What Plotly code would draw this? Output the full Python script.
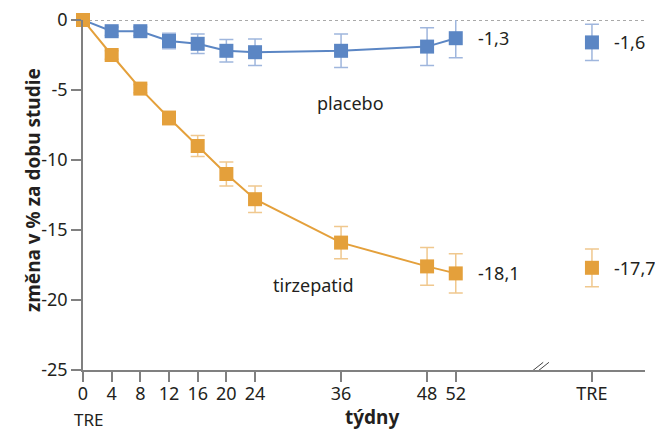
import plotly.graph_objects as go

# ---- data ----
weeks = [0, 4, 8, 12, 16, 20, 24, 36, 48, 52]
tick_labels = ["0", "4", "8", "12", "16", "20", "24", "36", "48", "52", "TRE"]

placebo = [0, -0.8, -0.8, -1.5, -1.7, -2.2, -2.3, -2.2, -1.9, -1.3]
placebo_err = [0, 0.3, 0.3, 0.55, 0.7, 0.8, 0.95, 1.2, 1.35, 1.4]
placebo_tre = [-1.6]
placebo_tre_err = [1.3]

tirz = [0, -2.5, -4.9, -7.0, -9.0, -11.0, -12.8, -15.9, -17.6, -18.1]
tirz_err = [0, 0.3, 0.3, 0.5, 0.75, 0.85, 0.95, 1.15, 1.35, 1.4]
tirz_tre = [-17.7]
tirz_tre_err = [1.35]

end_labels = ["-1,3", "-18,1"]
tre_labels = ["-1,6", "-17,7"]
series_names = ["placebo", "tirzepatid"]

# ---- layout constants ----
TRE_POS = 71
BLUE = "#5b86c4"
BLUE_ERR = "#9fb6dd"
ORANGE = "#e4a03b"
ORANGE_ERR = "#f0c88e"
TXT = "#231f20"
AX = "#808080"
FONT = "Noto Sans"
FS = 18

fig = go.Figure()

def add_series(x, y, err, color, ecolor, line=True):
    fig.add_trace(go.Scatter(
        x=x, y=y, mode="lines+markers" if line else "markers",
        line=dict(color=color, width=2),
        marker=dict(symbol="square", size=14, color=color),
        error_y=dict(type="data", array=err, visible=True, color=ecolor,
                     thickness=1.5, width=7),
        cliponaxis=False, showlegend=False, hoverinfo="skip"))

add_series(weeks, placebo, placebo_err, BLUE, BLUE_ERR)
add_series(weeks, tirz, tirz_err, ORANGE, ORANGE_ERR)
add_series([TRE_POS], placebo_tre, placebo_tre_err, BLUE, BLUE_ERR, line=False)
add_series([TRE_POS], tirz_tre, tirz_tre_err, ORANGE, ORANGE_ERR, line=False)

# dashed zero line
fig.add_shape(type="line", xref="x", yref="y", x0=0, x1=80, y0=0, y1=0,
              line=dict(color="#555555", width=1, dash="3px,3px"), layer="below")

# axis break marks
for dx in (0, 0.8):
    fig.add_shape(type="line", xref="x", yref="y",
                  x0=61.5 + dx, x1=64.2 + dx, y0=-25.55, y1=-24.45,
                  line=dict(color="#444444", width=1))

ann = []
# end labels
for y, t in zip([placebo[-1], tirz[-1]], end_labels):
    ann.append(dict(x=weeks[-1], y=y, text=t, xanchor="left", yanchor="middle",
                    xshift=20, showarrow=False, font=dict(size=FS, color=TXT)))
for y, t in zip([placebo_tre[0], tirz_tre[0]], tre_labels):
    ann.append(dict(x=TRE_POS, y=y, text=t, xanchor="left", yanchor="middle",
                    xshift=20, showarrow=False, font=dict(size=FS, color=TXT)))
# series names
ann.append(dict(x=37.3, y=-5.9, text=series_names[0], showarrow=False,
                font=dict(size=FS, color=TXT)))
ann.append(dict(x=32.2, y=-18.9, text=series_names[1], showarrow=False,
                font=dict(size=FS, color=TXT)))
# TRE under 0, x title
ann.append(dict(x=0, y=0, xref="x", yref="paper", text="TRE", showarrow=False,
                yanchor="middle", yshift=-49, xshift=5, font=dict(size=17, color=TXT)))
ann.append(dict(x=40.3, y=0, xref="x", yref="paper", text="<b>týdny</b>",
                yanchor="middle", showarrow=False, yshift=-47, font=dict(size=19, color=TXT)))
# y title
ann.append(dict(x=-0.1157, y=0.514, xref="paper", yref="paper",
                text="<b>změna v % za dobu studie</b>", textangle=-90,
                showarrow=False, font=dict(size=19, color=TXT)))

fig.update_layout(
    width=655, height=430,
    margin=dict(l=83, r=10, t=20, b=60),
    paper_bgcolor="white", plot_bgcolor="white",
    font=dict(family=FONT, size=FS, color=TXT),
    annotations=ann,
    xaxis=dict(range=[0, 78.4], tickmode="array",
               tickvals=weeks + [TRE_POS], ticktext=tick_labels,
               showline=True, linecolor=AX, linewidth=1.5,
               ticks="outside", ticklen=10, tickcolor=AX, tickwidth=1.5,
               ticklabelstandoff=-3,
               showgrid=False, zeroline=False, automargin=False,
               tickfont=dict(size=FS, color=TXT)),
    yaxis=dict(range=[-25, 0], tickmode="array",
               tickvals=[0, -5, -10, -15, -20, -25],
               ticktext=["0", "-5", "-10", "-15", "-20", "-25"],
               showline=True, linecolor=AX, linewidth=1.5,
               ticks="outside", ticklen=10, tickcolor=AX, tickwidth=1.5,
               showgrid=False, zeroline=False, automargin=False,
               tickfont=dict(size=FS, color=TXT)),
)

fig.write_html("out.html")
